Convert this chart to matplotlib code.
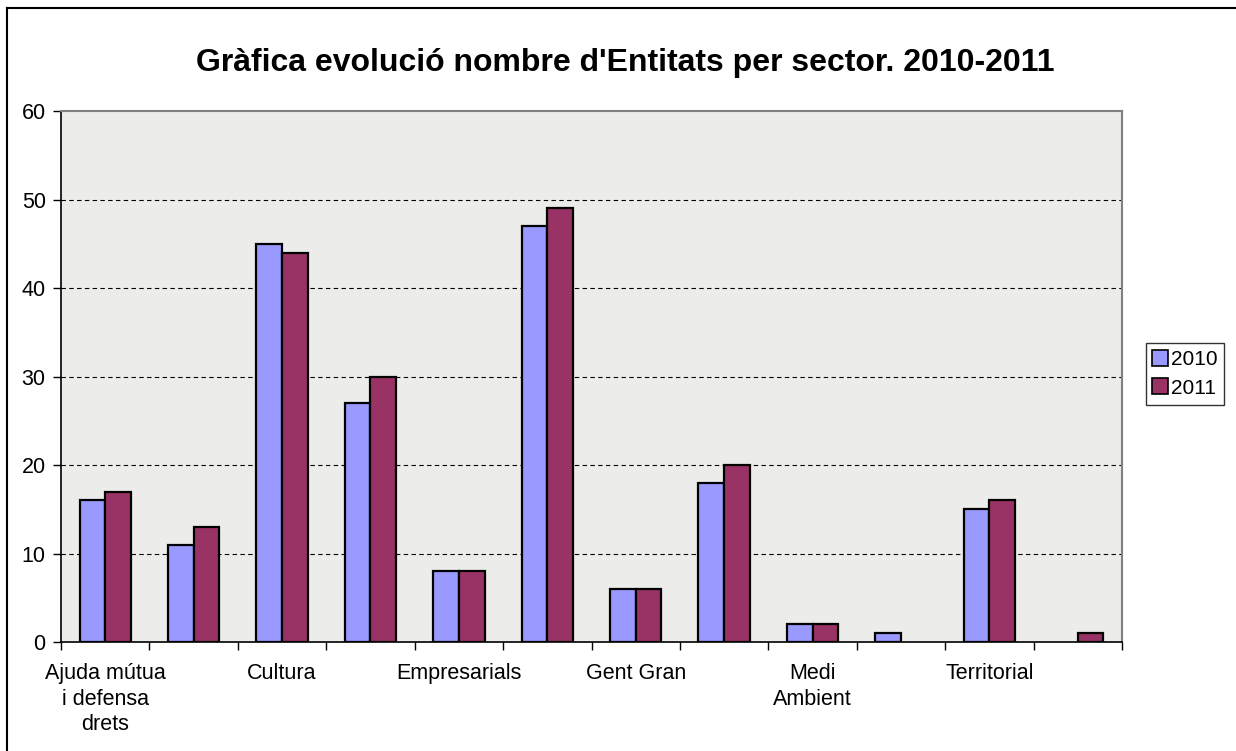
import numpy as np
import matplotlib
matplotlib.use("Agg")
import matplotlib.pyplot as plt
from matplotlib.lines import Line2D

plt.rcParams['font.family'] = ['Liberation Sans', 'DejaVu Sans']

# dades llegides del gràfic
sector_labels = ["Ajuda mútua\ni defensa\ndrets", "", "Cultura", "", "Empresarials", "",
                 "Gent Gran", "", "Medi\nAmbient", "", "Territorial", ""]
vals_2010 = [16, 11, 45, 27, 8, 47, 6, 18, 2, 1, 15, 0]
vals_2011 = [17, 13, 44, 30, 8, 49, 6, 20, 2, 0, 16, 1]
series_names = ["2010", "2011"]
y_ticks = [0, 10, 20, 30, 40, 50, 60]

W, H = 1236, 751
fig = plt.figure(figsize=(W / 100, H / 100), dpi=100)
ax = fig.add_axes([61 / W, 1 - 642 / H, (1122 - 61) / W, (642 - 111) / H])
ax.set_facecolor('#ececeb')

n = len(vals_2010)
x = np.arange(n) + 0.5
bw = 0.29
lw10 = [1.6 if v > 0 else 0 for v in vals_2010]
lw11 = [1.6 if v > 0 else 0 for v in vals_2011]
ax.bar(x - bw / 2, vals_2010, bw, color='#9999ff', edgecolor='black', linewidth=lw10, zorder=3)
ax.bar(x + bw / 2, vals_2011, bw, color='#993366', edgecolor='black', linewidth=lw11, zorder=3)

ax.set_xlim(0, n)
ax.set_ylim(0, 60)
ax.set_yticks(y_ticks)
for t in y_ticks[1:-1]:
    ax.axhline(t, color='black', linestyle=(0, (4, 3)), linewidth=0.8, zorder=1)

# ticks a les fronteres de categoria, etiquetes al centre
ax.set_xticks(np.arange(n + 1))
ax.set_xticklabels([])
ax.set_xticks(x, minor=True)
ax.set_xticklabels(sector_labels, minor=True, fontsize=15.5, linespacing=1.3)
ax.tick_params(axis='x', which='minor', length=0, pad=15)
ax.tick_params(axis='x', which='major', length=6, width=1, direction='out')
ax.tick_params(axis='y', length=6, width=1, direction='out', labelsize=15.5, pad=5)
for lbl in ax.get_xticklabels(minor=True):
    lbl.set_verticalalignment('top')

for s in ['top', 'right']:
    ax.spines[s].set_color('#808080')
    ax.spines[s].set_linewidth(1.5)
for s in ['left', 'bottom']:
    ax.spines[s].set_color('black')
    ax.spines[s].set_linewidth(1.2)

fig.text(625 / W, 1 - 63 / H, "Gràfica evolució nombre d'Entitats per sector. 2010-2011",
         ha='center', va='center', fontsize=23, fontweight='bold')

handles = [Line2D([], [], marker='s', linestyle='none', markersize=12,
                  markerfacecolor=c, markeredgecolor='black', markeredgewidth=1.2)
           for c in ['#9999ff', '#993366']]
leg = fig.legend(handles, series_names, loc='center', bbox_to_anchor=(1185 / W, 1 - 374 / H),
                 fontsize=15, frameon=True, fancybox=False, handlelength=0.7,
                 handletextpad=0.15, borderpad=0.35, labelspacing=0.45, borderaxespad=0)
leg.get_frame().set_edgecolor('black')
leg.get_frame().set_linewidth(1.0)

# marc exterior
fig.add_artist(Line2D([7 / W, 7 / W], [0, 1 - 8 / H], transform=fig.transFigure, color='black', lw=1.5))
fig.add_artist(Line2D([7 / W, 1], [1 - 8 / H, 1 - 8 / H], transform=fig.transFigure, color='black', lw=1.5))

fig.savefig("out.png", dpi=100)
